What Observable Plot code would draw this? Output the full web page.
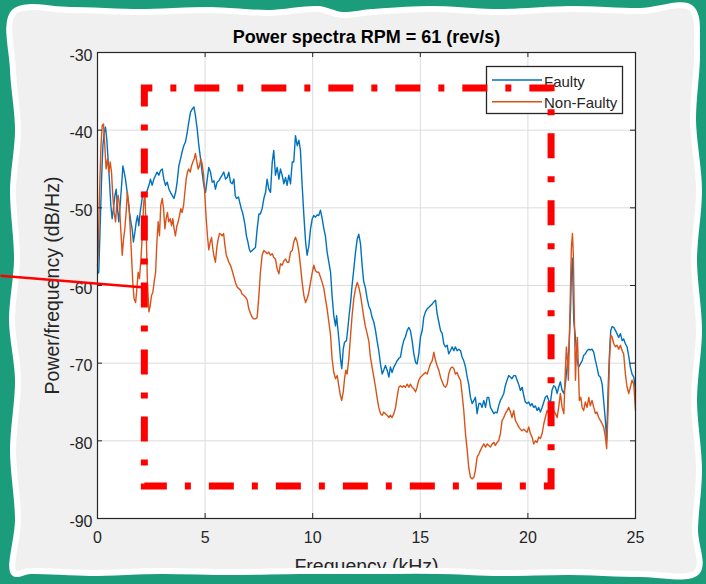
<!DOCTYPE html>
<html>
<head>
<meta charset="utf-8">
<script src="https://cdn.jsdelivr.net/npm/d3@7"></script>
<script src="https://cdn.jsdelivr.net/npm/@observablehq/plot@0.6"></script>
<style>
  html, body { margin: 0; padding: 0; background: #1b9c7b; }
  #stage { position: relative; width: 706px; height: 584px; overflow: hidden;
           font-family: "Liberation Sans", Arial, Helvetica, sans-serif; }
  #stage > svg, #stage > div { position: absolute; left: 0; top: 0; }
</style>
</head>
<body>
<div id="stage"></div>
<script>
// ---- chart content ----
const title = "Power spectra RPM = 61 (rev/s)";
const xLabel = "Frequency (kHz)";
const yLabel = "Power/frequency (dB/Hz)";
const xTicks = [0, 5, 10, 15, 20, 25];
const yTicks = [-90, -80, -70, -60, -50, -40, -30];
const seriesNames = ["Faulty", "Non-Faulty"];
const seriesColors = ["#0072BD", "#D95319"];

// [frequency (kHz), power (dB/Hz)]
const faulty = [
  [0.0,-58.5],[0.06,-58.3],[0.12,-52.7],[0.19,-46.3],[0.25,-42.0],[0.31,-40.3],[0.37,-39.6],[0.43,-41.1],
  [0.50,-44.1],[0.56,-46.7],[0.62,-49.7],[0.68,-51.4],[0.74,-50.1],[0.81,-48.4],[0.87,-47.6],[0.93,-50.1],
  [0.99,-51.8],[1.05,-49.7],[1.12,-47.1],[1.18,-44.6],[1.24,-45.4],[1.30,-46.3],[1.36,-47.6],[1.43,-49.3],
  [1.49,-50.6],[1.55,-51.8],[1.61,-52.7],[1.67,-54.4],[1.74,-53.1],[1.80,-51.8],[1.86,-51.0],[1.92,-52.3],
  [1.98,-50.6],[2.05,-49.3],[2.11,-48.0],[2.23,-48.4],[2.39,-47.1],[2.46,-46.3],[2.54,-47.1],[2.62,-46.3],
  [2.70,-45.8],[2.77,-45.4],[2.85,-45.8],[2.93,-45.2],[3.01,-45.0],[3.08,-46.3],[3.16,-47.1],[3.24,-46.7],
  [3.32,-47.6],[3.39,-48.0],[3.47,-48.4],[3.55,-48.8],[3.63,-48.0],[3.70,-46.7],[3.78,-44.6],[3.86,-43.7],
  [3.93,-42.8],[4.01,-42.0],[4.09,-41.5],[4.17,-40.3],[4.24,-39.0],[4.32,-37.7],[4.40,-37.3],[4.48,-37.0],
  [4.55,-38.1],[4.63,-39.8],[4.71,-42.0],[4.79,-43.7],[4.86,-45.4],[4.94,-47.1],[5.02,-48.0],[5.10,-46.3],
  [5.17,-44.8],[5.25,-45.4],[5.33,-46.7],[5.41,-46.5],[5.48,-47.6],[5.56,-46.7],[5.64,-46.5],[5.72,-46.1],
  [5.79,-45.8],[5.87,-45.4],[5.95,-46.3],[6.03,-46.1],[6.10,-45.4],[6.18,-46.7],[6.26,-46.9],[6.34,-46.3],
  [6.40,-48.4],[6.46,-48.8],[6.55,-48.6],[6.61,-49.3],[6.68,-50.1],[6.74,-50.6],[6.80,-51.4],[6.86,-52.3],
  [6.92,-53.6],[6.99,-54.4],[7.05,-55.3],[7.11,-55.7],[7.19,-55.5],[7.26,-55.3],[7.34,-55.1],[7.42,-52.7],
  [7.50,-50.8],[7.57,-50.8],[7.65,-50.1],[7.73,-48.8],[7.81,-48.0],[7.88,-46.3],[7.96,-47.6],[8.04,-48.0],
  [8.12,-44.1],[8.19,-42.6],[8.27,-45.8],[8.35,-44.8],[8.43,-46.3],[8.50,-45.0],[8.58,-45.8],[8.66,-46.9],
  [8.74,-46.1],[8.81,-47.1],[8.89,-45.8],[8.97,-46.9],[9.05,-44.1],[9.12,-44.1],[9.20,-40.7],[9.28,-42.0],
  [9.36,-41.3],[9.43,-42.6],[9.51,-47.1],[9.59,-51.0],[9.67,-54.4],[9.74,-56.1],[9.82,-54.9],[9.90,-52.7],
  [9.98,-51.4],[10.05,-51.0],[10.13,-51.2],[10.21,-50.9],[10.28,-51.0],[10.36,-50.3],[10.44,-51.4],[10.52,-52.7],
  [10.59,-53.6],[10.67,-55.7],[10.75,-57.0],[10.83,-58.3],[10.90,-61.3],[10.98,-63.9],[11.06,-65.2],[11.11,-63.9],
  [11.17,-65.6],[11.23,-67.3],[11.29,-69.4],[11.35,-70.7],[11.42,-68.2],[11.48,-67.3],[11.57,-67.1],[11.63,-65.6],
  [11.69,-63.9],[11.76,-62.2],[11.83,-60.0],[11.91,-57.9],[11.99,-55.7],[12.07,-54.0],[12.14,-53.4],[12.22,-54.6],
  [12.30,-57.5],[12.37,-59.5],[12.45,-60.3],[12.53,-61.7],[12.61,-62.7],[12.68,-63.1],[12.76,-64.1],[12.84,-64.7],
  [12.92,-65.8],[12.99,-67.1],[13.07,-68.4],[13.15,-70.1],[13.23,-71.4],[13.30,-70.9],[13.38,-70.3],[13.46,-70.9],
  [13.54,-71.8],[13.61,-70.5],[13.69,-71.2],[13.77,-70.5],[13.85,-70.1],[13.92,-69.7],[14.00,-69.4],[14.08,-69.2],
  [14.16,-67.9],[14.23,-67.1],[14.31,-66.6],[14.39,-65.8],[14.47,-65.4],[14.54,-65.8],[14.62,-67.1],[14.70,-68.8],
  [14.78,-69.9],[14.85,-70.1],[14.93,-68.8],[15.01,-66.6],[15.09,-65.8],[15.16,-64.1],[15.24,-63.4],[15.32,-63.0],
  [15.40,-62.8],[15.47,-62.6],[15.55,-62.4],[15.63,-62.1],[15.71,-61.9],[15.78,-63.6],[15.86,-64.7],[15.94,-65.8],
  [16.02,-66.2],[16.09,-67.5],[16.17,-67.9],[16.25,-67.7],[16.32,-68.8],[16.40,-68.4],[16.48,-67.9],[16.56,-68.4],
  [16.63,-67.9],[16.71,-68.4],[16.79,-68.2],[16.87,-68.4],[16.94,-69.2],[17.02,-69.7],[17.10,-70.5],[17.18,-71.8],
  [17.25,-72.7],[17.33,-74.4],[17.41,-75.2],[17.49,-74.8],[17.56,-74.4],[17.64,-76.5],[17.72,-75.2],[17.80,-75.2],
  [17.87,-75.7],[17.95,-74.8],[18.03,-75.7],[18.11,-74.4],[18.18,-74.4],[18.26,-75.7],[18.34,-76.1],[18.42,-76.5],
  [18.49,-76.3],[18.57,-76.4],[18.64,-75.5],[18.72,-74.8],[18.80,-74.4],[18.88,-73.9],[18.95,-72.9],[19.03,-72.2],
  [19.11,-71.6],[19.19,-71.8],[19.26,-72.0],[19.34,-71.6],[19.42,-71.6],[19.50,-72.2],[19.57,-72.7],[19.65,-73.5],
  [19.73,-73.1],[19.81,-74.2],[19.88,-75.0],[19.96,-75.2],[20.04,-75.0],[20.12,-75.5],[20.19,-75.2],[20.27,-75.7],
  [20.35,-75.5],[20.43,-76.1],[20.50,-75.7],[20.58,-76.3],[20.66,-75.7],[20.74,-75.0],[20.81,-74.4],[20.89,-74.2],
  [20.97,-74.8],[21.05,-75.0],[21.12,-73.5],[21.20,-72.9],[21.28,-73.1],[21.36,-73.9],[21.43,-73.1],[21.51,-72.4],
  [21.59,-73.5],[21.67,-73.9],[21.74,-72.7],[21.82,-70.5],[21.90,-68.4],[21.98,-63.2],[22.02,-58.5],[22.07,-56.5],
  [22.13,-64.5],[22.21,-66.7],[22.29,-69.7],[22.36,-70.5],[22.44,-70.1],[22.52,-69.7],[22.59,-69.0],[22.67,-68.8],
  [22.75,-68.4],[22.83,-68.2],[22.90,-68.3],[22.98,-68.2],[23.06,-68.6],[23.14,-69.7],[23.21,-70.5],[23.29,-71.6],
  [23.37,-71.8],[23.45,-72.7],[23.52,-74.8],[23.60,-77.4],[23.66,-79.9],[23.73,-73.1],[23.79,-68.8],[23.85,-65.8],
  [23.91,-65.3],[23.99,-65.4],[24.07,-65.8],[24.14,-66.2],[24.22,-66.7],[24.30,-66.2],[24.38,-67.1],[24.45,-66.9],
  [24.53,-67.5],[24.61,-67.9],[24.69,-69.2],[24.76,-70.5],[24.84,-71.4],[24.92,-71.8],[25.00,-73.5]
];

const nonFaulty = [
  [0.0,-57.5],[0.03,-56.1],[0.09,-48.4],[0.16,-42.0],[0.22,-39.4],[0.28,-39.2],[0.34,-42.0],[0.40,-45.0],
  [0.47,-43.7],[0.53,-45.4],[0.59,-44.1],[0.65,-45.4],[0.71,-48.4],[0.77,-50.6],[0.84,-51.8],[0.90,-49.3],
  [0.96,-48.4],[1.02,-49.7],[1.08,-52.7],[1.15,-56.1],[1.21,-54.0],[1.27,-52.7],[1.33,-50.6],[1.39,-48.0],
  [1.46,-49.7],[1.52,-52.7],[1.58,-56.1],[1.64,-59.6],[1.70,-61.7],[1.77,-62.2],[1.83,-60.4],[1.89,-58.3],
  [1.95,-59.1],[2.01,-57.0],[2.08,-53.6],[2.14,-49.7],[2.20,-48.0],[2.26,-52.7],[2.32,-59.6],[2.39,-63.4],
  [2.45,-62.6],[2.51,-61.3],[2.57,-60.9],[2.63,-59.6],[2.70,-58.3],[2.76,-54.4],[2.82,-51.8],[2.88,-53.6],
  [2.94,-49.7],[3.01,-48.8],[3.07,-50.1],[3.13,-52.7],[3.19,-51.4],[3.25,-50.6],[3.31,-51.8],[3.38,-51.4],
  [3.44,-52.3],[3.50,-51.4],[3.56,-52.7],[3.62,-53.6],[3.69,-52.3],[3.75,-51.8],[3.81,-51.0],[3.87,-50.1],
  [3.93,-50.6],[4.00,-49.7],[4.06,-48.0],[4.12,-46.3],[4.18,-45.4],[4.24,-45.0],[4.31,-45.4],[4.37,-44.6],
  [4.43,-44.1],[4.49,-43.7],[4.55,-43.0],[4.62,-44.1],[4.68,-45.0],[4.74,-44.6],[4.80,-43.7],[4.86,-44.3],
  [4.93,-45.8],[4.99,-48.4],[5.05,-51.4],[5.11,-53.6],[5.17,-55.4],[5.24,-54.4],[5.30,-53.8],[5.36,-55.3],
  [5.42,-56.3],[5.48,-57.0],[5.55,-55.0],[5.61,-54.0],[5.67,-53.3],[5.73,-53.4],[5.79,-53.6],[5.86,-53.3],
  [5.92,-54.8],[5.98,-56.0],[6.04,-56.5],[6.10,-57.0],[6.18,-57.4],[6.26,-58.1],[6.34,-58.9],[6.41,-59.6],
  [6.49,-60.2],[6.57,-60.4],[6.65,-60.6],[6.72,-61.1],[6.80,-61.3],[6.88,-61.5],[6.96,-61.9],[7.03,-63.0],
  [7.11,-63.6],[7.19,-64.1],[7.26,-64.3],[7.34,-64.3],[7.42,-64.1],[7.50,-61.3],[7.57,-58.3],[7.65,-56.1],
  [7.73,-55.5],[7.81,-55.7],[7.88,-55.9],[7.96,-55.7],[8.04,-56.1],[8.12,-55.9],[8.19,-56.4],[8.27,-56.6],
  [8.35,-57.9],[8.43,-58.5],[8.50,-57.2],[8.58,-57.4],[8.66,-56.8],[8.74,-56.6],[8.81,-57.0],[8.89,-57.0],
  [8.97,-55.7],[9.05,-55.5],[9.12,-54.4],[9.20,-53.8],[9.28,-54.4],[9.36,-55.7],[9.43,-57.4],[9.51,-59.6],
  [9.59,-61.3],[9.67,-62.2],[9.74,-61.7],[9.82,-60.9],[9.90,-59.6],[9.98,-58.3],[10.05,-57.4],[10.13,-58.1],
  [10.21,-58.3],[10.28,-58.3],[10.36,-58.9],[10.44,-59.6],[10.52,-60.4],[10.59,-61.7],[10.67,-63.0],[10.75,-64.7],
  [10.83,-66.4],[10.90,-69.4],[10.98,-71.2],[11.06,-72.0],[11.14,-71.6],[11.21,-72.9],[11.29,-74.2],[11.35,-74.8],
  [11.42,-73.7],[11.48,-72.0],[11.54,-70.9],[11.60,-71.4],[11.68,-69.4],[11.76,-66.4],[11.83,-63.9],[11.91,-61.7],
  [11.99,-60.4],[12.07,-59.6],[12.14,-60.2],[12.22,-61.2],[12.30,-62.7],[12.37,-64.0],[12.45,-65.3],[12.53,-66.2],
  [12.61,-67.2],[12.68,-69.2],[12.76,-70.5],[12.84,-71.8],[12.92,-73.1],[12.99,-74.4],[13.07,-75.7],[13.15,-76.5],
  [13.23,-76.7],[13.30,-76.3],[13.38,-76.5],[13.46,-76.7],[13.54,-77.0],[13.61,-76.7],[13.69,-77.0],[13.77,-76.5],
  [13.85,-75.7],[13.92,-74.4],[14.00,-73.1],[14.08,-72.9],[14.16,-73.1],[14.23,-72.9],[14.31,-73.1],[14.39,-72.7],
  [14.47,-73.1],[14.54,-72.7],[14.62,-73.1],[14.70,-73.3],[14.78,-73.7],[14.85,-73.1],[14.93,-72.2],[15.01,-71.8],
  [15.09,-71.6],[15.16,-71.4],[15.24,-71.2],[15.32,-71.4],[15.40,-70.7],[15.47,-70.1],[15.55,-69.7],[15.63,-68.6],
  [15.71,-69.7],[15.78,-70.3],[15.86,-70.9],[15.94,-71.8],[16.02,-72.4],[16.09,-72.9],[16.17,-73.1],[16.25,-72.7],
  [16.32,-71.4],[16.40,-70.7],[16.48,-70.5],[16.56,-70.7],[16.63,-71.4],[16.71,-71.2],[16.79,-71.8],[16.87,-72.2],
  [16.94,-73.9],[17.02,-76.1],[17.10,-79.1],[17.18,-81.2],[17.25,-83.4],[17.33,-84.7],[17.41,-84.9],[17.49,-84.7],
  [17.56,-83.8],[17.64,-82.1],[17.72,-81.7],[17.80,-81.2],[17.87,-80.8],[17.95,-80.4],[18.03,-80.8],[18.11,-80.4],
  [18.18,-80.6],[18.26,-80.8],[18.34,-80.4],[18.42,-80.2],[18.49,-80.6],[18.57,-80.2],[18.64,-80.0],[18.72,-79.1],
  [18.80,-77.4],[18.88,-77.0],[18.95,-76.5],[19.03,-76.1],[19.11,-75.7],[19.19,-76.3],[19.26,-77.0],[19.34,-76.1],
  [19.42,-77.4],[19.50,-77.8],[19.57,-78.2],[19.65,-78.5],[19.73,-78.7],[19.81,-78.5],[19.88,-78.7],[19.96,-78.9],
  [20.04,-78.2],[20.12,-79.1],[20.19,-79.5],[20.27,-80.4],[20.35,-80.0],[20.43,-80.2],[20.50,-79.5],[20.58,-79.7],
  [20.66,-79.1],[20.74,-77.8],[20.81,-77.0],[20.89,-76.1],[20.97,-76.5],[21.05,-77.4],[21.12,-76.5],[21.20,-76.1],
  [21.28,-76.5],[21.36,-77.0],[21.43,-75.7],[21.51,-73.9],[21.59,-75.7],[21.67,-76.5],[21.74,-70.9],[21.79,-67.9],
  [21.84,-69.7],[21.88,-72.2],[21.93,-66.6],[21.98,-60.2],[22.02,-55.1],[22.07,-53.3],[22.11,-55.9],[22.16,-64.5],
  [22.21,-72.2],[22.25,-68.8],[22.30,-66.7],[22.35,-70.9],[22.39,-74.8],[22.46,-74.4],[22.52,-75.7],[22.59,-76.1],
  [22.67,-75.0],[22.75,-75.7],[22.83,-74.4],[22.90,-75.5],[22.98,-74.8],[23.06,-75.7],[23.14,-76.5],[23.21,-76.3],
  [23.29,-77.0],[23.37,-77.4],[23.45,-77.8],[23.52,-78.2],[23.60,-79.5],[23.66,-81.0],[23.73,-75.7],[23.79,-69.7],
  [23.85,-66.4],[23.91,-66.6],[23.99,-67.5],[24.07,-67.9],[24.14,-67.7],[24.22,-68.2],[24.30,-67.7],[24.38,-68.4],
  [24.45,-68.8],[24.53,-71.4],[24.61,-73.1],[24.69,-73.9],[24.76,-73.1],[24.84,-72.2],[24.92,-72.7],[25.00,-76.1]
];

// dash-dot highlight around the 2–21 kHz band, and the pointer line running into it
const highlightBox = [{x1: 2.2, x2: 21.1, y1: -85.88, y2: -34.63}];
const pointer = [{x1: -4.51, y1: -58.75, x2: 2.2, y2: -60.25}];

// ---- layout ----
const W = 706, H = 584;
const M = {top: 52, right: 71, bottom: 66, left: 97};
const plotW = W - M.left - M.right;
const plotH = H - M.top - M.bottom;
const ink = "#262626";
const green = "#1b9c7b";
const stage = d3.select("#stage");

// wavy sheet of paper the figure sits on
const paperEdge = [
  [14,12],[70,10],[140,12],[210,10],[270,13],[318,9],[342,15],[372,12],[430,9],[500,12],[570,9],[640,11],[691,8],
  [697,50],[693,120],[699,190],[694,260],[699,330],[694,400],[699,470],[695,530],[697,572],
  [640,574],[570,572],[500,573],[440,571],[370,571],[300,571],[230,572],[160,571],[90,573],[30,571],[14,573],
  [18,520],[13,450],[18,380],[12,320],[17,260],[13,190],[18,130],[13,70]
];
const edgePath = d3.line().curve(d3.curveCatmullRomClosed.alpha(0.5))(paperEdge);

const bg = stage.append("svg").attr("width", W).attr("height", H);
bg.append("rect").attr("width", W).attr("height", H).attr("fill", green);
bg.append("path").attr("d", edgePath).attr("fill", "#f0f0f0");

// ---- main chart ----
const lineOpts = (i) => ({x: d => d[0], y: d => d[1], stroke: seriesColors[i], strokeWidth: 1.4});
const chart = Plot.plot({
  width: W, height: H,
  marginTop: M.top, marginRight: M.right, marginBottom: M.bottom, marginLeft: M.left,
  x: {domain: [0, 25]},
  y: {domain: [-90, -30]},
  style: {background: "transparent", color: ink, fontFamily: '"Liberation Sans", Arial, Helvetica, sans-serif', overflow: "visible"},
  marks: [
    Plot.frame({fill: "white", stroke: null}),
    Plot.gridX(xTicks, {stroke: "#dcdcdc", strokeOpacity: 1}),
    Plot.gridY(yTicks, {stroke: "#dcdcdc", strokeOpacity: 1}),
    Plot.line(faulty, lineOpts(0)),
    Plot.line(nonFaulty, lineOpts(1)),
    Plot.frame({stroke: ink, strokeWidth: 1.2}),
    // inward tick marks on all four sides
    Plot.ruleX(xTicks, {stroke: ink, insetTop: plotH - 5}),
    Plot.ruleX(xTicks, {stroke: ink, insetBottom: plotH - 5}),
    Plot.ruleY(yTicks, {stroke: ink, insetRight: plotW - 5}),
    Plot.ruleY(yTicks, {stroke: ink, insetLeft: plotW - 5}),
    Plot.axisX(xTicks, {tickSize: 0, tickPadding: 13, fontSize: 16, label: null, tickFormat: d => String(d)}),
    Plot.axisY(yTicks, {tickSize: 0, tickPadding: 5, fontSize: 16, label: null, dy: 3, tickFormat: d => String(d)}),
    Plot.text([title], {frameAnchor: "top", lineAnchor: "bottom", dy: -10, fontSize: 18, fontWeight: "bold", fill: "#000"}),
    Plot.text([xLabel], {frameAnchor: "bottom", lineAnchor: "bottom", dy: 54, fontSize: 19.5}),
    Plot.text([yLabel], {frameAnchor: "left", textAnchor: "middle", lineAnchor: "middle", rotate: -90, dx: -45, fontSize: 19.5})
  ]
});
stage.node().appendChild(chart);

// ---- legend box ----
const lg = stage.append("svg").attr("width", W).attr("height", H).style("overflow", "visible");
const lgX = 486, lgY = 66;
lg.append("rect").attr("x", lgX + 0.5).attr("y", lgY + 0.5).attr("width", 136).attr("height", 47)
  .attr("fill", "white").attr("stroke", ink).attr("stroke-width", 1.3);
seriesNames.forEach((name, i) => {
  const cy = lgY + 14 + i * 21.7;
  lg.append("line").attr("x1", lgX + 6).attr("x2", lgX + 56).attr("y1", cy).attr("y2", cy)
    .attr("stroke", seriesColors[i]).attr("stroke-width", 1.4);
  lg.append("text").attr("x", lgX + 58).attr("y", cy + 6.5).text(name)
    .attr("font-size", 15).attr("fill", ink)
    .attr("font-family", '"Liberation Sans", Arial, Helvetica, sans-serif');
});

// ---- paper border drawn over the chart (clips whatever spills past the sheet) ----
const ov = stage.append("svg").attr("width", W).attr("height", H);
ov.append("path").attr("d", `M0,0H${W}V${H}H0Z` + edgePath).attr("fill", green).attr("fill-rule", "evenodd");
ov.append("path").attr("d", edgePath).attr("fill", "none").attr("stroke", "white").attr("stroke-width", 6)
  .attr("stroke-linejoin", "round");

// ---- red annotations on top ----
const notes = Plot.plot({
  width: W, height: H,
  marginTop: M.top, marginRight: M.right, marginBottom: M.bottom, marginLeft: M.left,
  x: {domain: [0, 25], axis: null},
  y: {domain: [-90, -30], axis: null},
  style: {background: "transparent", overflow: "visible"},
  marks: [
    Plot.rect(highlightBox, {x1: "x1", x2: "x2", y1: "y1", y2: "y2", fill: "none", stroke: "#ff0000",
      strokeWidth: 7, strokeDasharray: "25 18 6 18", strokeDashoffset: 17}),
    Plot.link(pointer, {x1: "x1", y1: "y1", x2: "x2", y2: "y2", stroke: "#ff0000", strokeWidth: 2.5})
  ]
});
stage.node().appendChild(notes);
</script>
</body>
</html>
